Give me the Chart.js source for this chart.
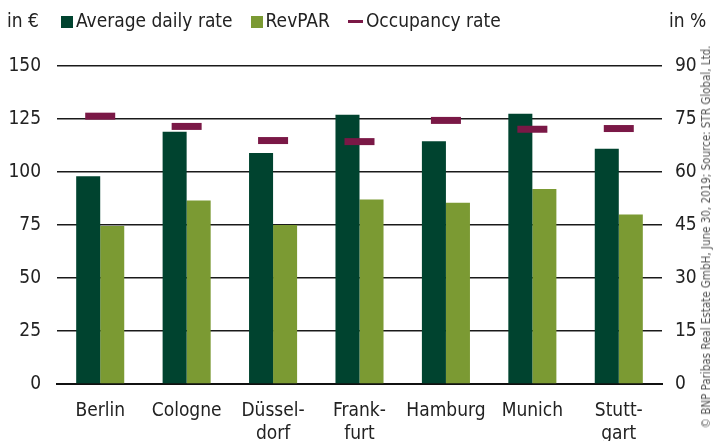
<!DOCTYPE html>
<html>
<head>
<meta charset="utf-8">
<script src="https://cdn.jsdelivr.net/npm/chart.js@4/dist/chart.umd.min.js"></script>
<style>
    body { margin: 0; background: #fff; }
    #wrap { position: relative; width: 714px; height: 441px; font-family: 'Liberation Sans Narrow', 'DejaVu Sans Condensed', sans-serif; color: #222; }
    #unitLeft { position: absolute; left: 7px; top: 9px; font-size: 19px; }
    #unitRight { position: absolute; left: 669px; top: 9px; font-size: 19px; }
    #legend { position: absolute; left: 61px; top: 9px; font-size: 19px; display: flex; }
    #legend span.item { display: flex; align-items: center; margin-right: 18px; }
    #legend i { display: inline-block; margin-right: 3px; }
    #source { position: absolute; left: 706px; top: 237px; transform: translate(-50%, -50%) rotate(-90deg); white-space: nowrap; font-size: 11.5px; color: #555; }
</style>
</head>
<body>
<div id="wrap">
    <canvas id="myChart" width="714" height="441"></canvas>
    <div id="unitLeft">in €</div>
    <div id="legend"></div>
    <div id="unitRight">in %</div>
    <div id="source">© BNP Paribas Real Estate GmbH, June 30, 2019; Source: STR Global, Ltd.</div>
</div>
<script>
/* 데이터 */
let cities = [['Berlin'], ['Cologne'], ['Düssel-', 'dorf'], ['Frank-', 'furt'], ['Hamburg'], ['Munich'], ['Stutt-', 'gart']];
let adrList = [98, 119, 109, 127, 114.5, 127.5, 111];
let revparList = [74.5, 86.5, 75, 87, 85.5, 92, 80];
let occList = [75.8, 72.9, 68.9, 68.6, 74.6, 72.1, 72.3];
let leftTicks = [0, 25, 50, 75, 100, 125, 150];
let rightTicks = [0, 15, 30, 45, 60, 75, 90];

let fontName = "'Liberation Sans Narrow', 'DejaVu Sans Condensed', sans-serif";
let textColor = '#222';

let ctx = document.getElementById('myChart').getContext('2d');

let myChart = new Chart(ctx, {
    type: 'bar',
    data: {
        labels: cities,
        datasets: [{
            label: 'Average daily rate',
            data: adrList,
            backgroundColor: '#00432f',
            yAxisID: 'y',
            order: 1
        }, {
            label: 'RevPAR',
            data: revparList,
            backgroundColor: '#7b9a33',
            yAxisID: 'y',
            order: 1
        }, {
            type: 'line',
            label: 'Occupancy rate',
            data: occList,
            yAxisID: 'y1',
            showLine: false,
            pointStyle: 'line',
            pointRadius: 15,
            pointHoverRadius: 15,
            pointBorderWidth: 7,
            borderColor: '#7a1846',
            backgroundColor: '#7a1846',
            order: 0
        }]
    },
    options: {
        responsive: false,
        animation: false,
        layout: {
            padding: { top: 66, left: 0, right: 0, bottom: 0 }
        },
        datasets: {
            bar: {
                categoryPercentage: 0.556,
                barPercentage: 1
            }
        },
        plugins: {
            legend: { display: false },
            tooltip: { enabled: false }
        },
        scales: {
            x: {
                grid: { display: false },
                border: { color: '#111', width: 2 },
                ticks: {
                    color: textColor,
                    font: { family: fontName, size: 19 },
                    maxRotation: 0,
                    autoSkip: false,
                    padding: 8
                },
                afterFit: function (scale) {
                    scale.height = 57;
                }
            },
            y: {
                position: 'left',
                min: 0,
                max: 150,
                afterBuildTicks: function (scale) {
                    scale.ticks = leftTicks.map(v => ({ value: v }));
                },
                grid: {
                    color: '#1a1a1a',
                    lineWidth: 1.5,
                    drawTicks: false
                },
                border: { display: false },
                ticks: {
                    color: textColor,
                    font: { family: fontName, size: 19 },
                    padding: 16
                },
                afterFit: function (scale) {
                    scale.width = 57;
                }
            },
            y1: {
                position: 'right',
                min: 0,
                max: 90,
                afterBuildTicks: function (scale) {
                    scale.ticks = rightTicks.map(v => ({ value: v }));
                },
                grid: { display: false, drawTicks: false },
                border: { display: false },
                ticks: {
                    color: textColor,
                    font: { family: fontName, size: 19 },
                    padding: 13
                },
                afterFit: function (scale) {
                    scale.width = 52;
                }
            }
        }
    }
});

/* 범례 */
let legendHtml = '';
myChart.data.datasets.forEach(function (ds) {
    let mark;
    if (ds.type === 'line') {
        mark = '<i style="width:15px;height:3px;background:' + ds.borderColor + ';margin-top:3px"></i>';
    } else {
        mark = '<i style="width:12px;height:12px;background:' + ds.backgroundColor + ';margin-top:3px"></i>';
    }
    legendHtml += '<span class="item">' + mark + ds.label + '</span>';
});
document.getElementById('legend').innerHTML = legendHtml;
</script>
</body>
</html>
